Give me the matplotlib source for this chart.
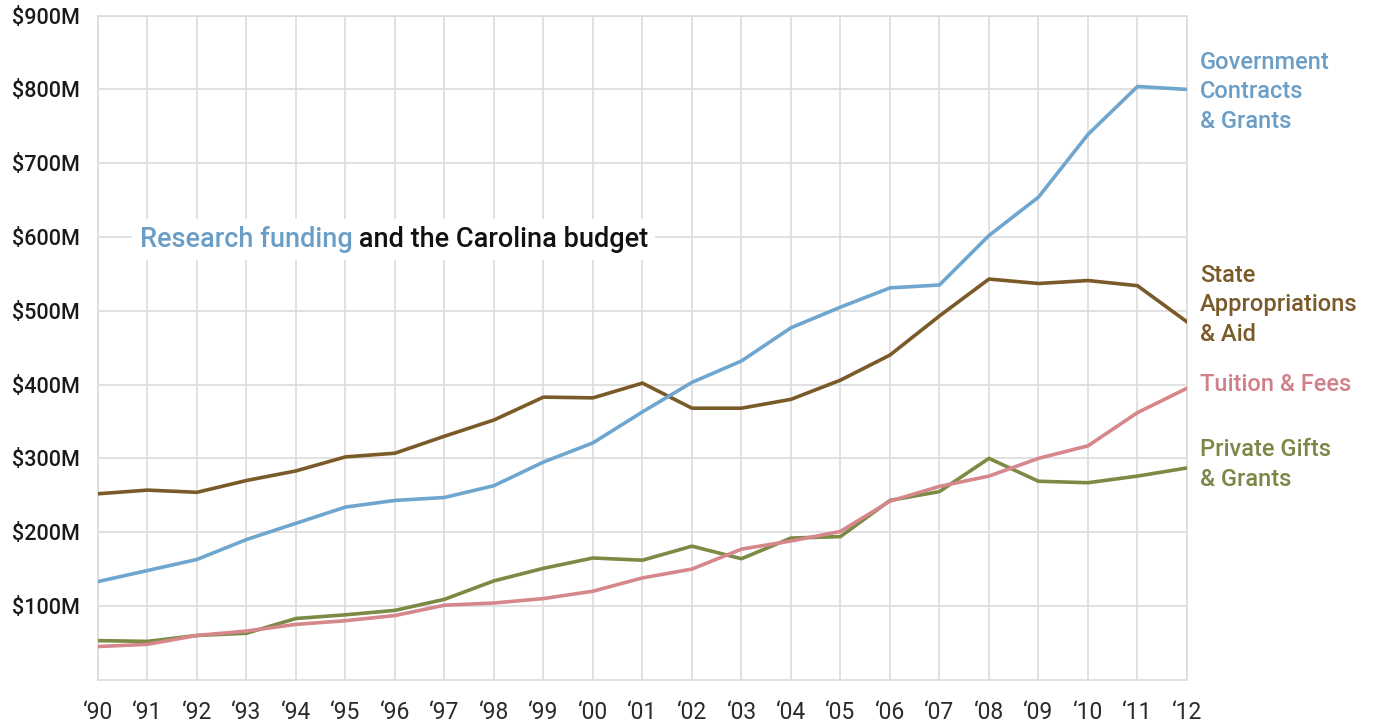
import matplotlib
matplotlib.use("Agg")
import matplotlib.pyplot as plt

plt.rcParams['font.family'] = ['Roboto', 'DejaVu Sans']

years = ["\u201890", "\u201891", "\u201892", "\u201893", "\u201894", "\u201895", "\u201896", "\u201897",
         "\u201898", "\u201899", "\u201800", "\u201801", "\u201802", "\u201803", "\u201804", "\u201805",
         "\u201806", "\u201807", "\u201808", "\u201809", "\u201810", "\u201811", "\u201812"]

gov_contracts = [133, 148, 163, 190, 212, 234, 243, 247, 263, 295, 321, 363, 403, 432,
                 477, 505, 531, 535, 602, 654, 739, 804, 800]
state_approp = [252, 257, 254, 270, 283, 302, 307, 330, 352, 383, 382, 402, 368, 368,
                380, 406, 440, 493, 543, 537, 541, 534, 485]
tuition_fees = [45, 48, 60, 66, 75, 80, 87, 101, 104, 110, 120, 138, 150, 177,
                188, 201, 242, 262, 276, 300, 317, 362, 395]
private_gifts = [53, 52, 60, 63, 83, 88, 94, 109, 134, 151, 165, 162, 181, 164,
                 192, 194, 243, 255, 300, 269, 267, 276, 287]

y_ticks = [100, 200, 300, 400, 500, 600, 700, 800, 900]
y_labels = ["$100M", "$200M", "$300M", "$400M", "$500M", "$600M", "$700M", "$800M", "$900M"]

title_part1 = "Research funding"
title_part2 = " and the Carolina budget"

c_blue = "#6fa6cf"
c_brown = "#7a5a28"
c_pink = "#d6878c"
c_green = "#7b8a44"
c_blue_t = "#6b9ec6"
c_brown_t = "#7b5a2a"
c_pink_t = "#cf8088"
c_green_t = "#7a8847"

fig = plt.figure(figsize=(13.93, 7.27), dpi=100)
ax = fig.add_axes([0.0703, 0.065, 0.7818, 0.9135])

x = list(range(len(years)))
ax.set_xlim(0, len(years) - 1)
ax.set_ylim(0, 900)

ax.set_xticks(x)
ax.set_xticklabels(years, fontsize=16.5, color="#2a2a2a")
ax.set_yticks(y_ticks)
ax.set_yticklabels(y_labels, fontsize=15.5, color="#1a1a1a", fontweight="medium")
ax.tick_params(axis="both", length=0)
ax.tick_params(axis="x", pad=15)
ax.tick_params(axis="y", pad=13)

ax.grid(True, color="#dcdcdc", linewidth=1.2)
ax.set_axisbelow(True)
for s in ax.spines.values():
    s.set_color("#dcdcdc")
    s.set_linewidth(1.2)

lw = 2.6
ax.plot(x, state_approp, color=c_brown, lw=lw, solid_joinstyle="round", zorder=3)
ax.plot(x, gov_contracts, color=c_blue, lw=lw, solid_joinstyle="round", zorder=3)
ax.plot(x, private_gifts, color=c_green, lw=lw, solid_joinstyle="round", zorder=3)
ax.plot(x, tuition_fees, color=c_pink, lw=lw, solid_joinstyle="round", zorder=4)

lx = len(years) - 1 + 0.26
lab_kw = dict(fontsize=17, fontweight="medium", ha="left", va="center",
              linespacing=1.36, clip_on=False)
ax.text(lx, 797, "Government\nContracts\n& Grants", color=c_blue_t, **lab_kw)
ax.text(lx, 508, "State\nAppropriations\n& Aid", color=c_brown_t, **lab_kw)
ax.text(lx, 400, "Tuition & Fees", color=c_pink_t, **lab_kw)
ax.text(lx, 292, "Private Gifts\n& Grants", color=c_green_t, **lab_kw)

tkw = dict(fontsize=19.5, fontweight="medium", va="center", zorder=6)
tx, ty = 0.84, 596
# white backing box behind the whole title
ax.text(tx, ty, title_part1 + title_part2, color="white", ha="left", alpha=0.0,
        fontsize=19.5, fontweight="medium", va="center", zorder=5,
        bbox=dict(facecolor="white", edgecolor="none", pad=5, alpha=1.0))
t1 = ax.text(tx, ty, title_part1, color=c_blue_t, ha="left", **tkw)
ax.annotate(title_part2, xy=(1, 0.5), xycoords=t1,
            xytext=(0, 0), textcoords="offset points",
            ha="left", color="#111111", **tkw)

fig.savefig("out.png", dpi=100, facecolor="white")
